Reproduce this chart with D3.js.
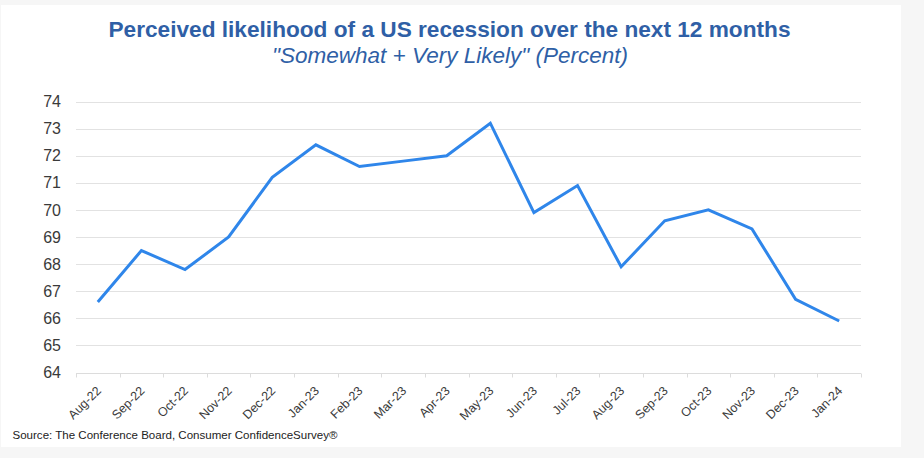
<!DOCTYPE html>
<html>
<head>
<meta charset="utf-8">
<script src="https://cdn.jsdelivr.net/npm/d3@7"></script>
<style>
  html, body { margin: 0; padding: 0; background: #f6f6f6; }
  svg { display: block; }
</style>
</head>
<body>
<svg id="chart" width="924" height="458"></svg>
<script>
const categories = ["Aug-22","Sep-22","Oct-22","Nov-22","Dec-22","Jan-23","Feb-23","Mar-23","Apr-23","May-23","Jun-23","Jul-23","Aug-23","Sep-23","Oct-23","Nov-23","Dec-23","Jan-24"];
const values = [66.6, 68.5, 67.8, 69.0, 71.2, 72.4, 71.6, 71.8, 72.0, 73.2, 69.9, 70.9, 67.9, 69.6, 70.0, 69.3, 66.7, 65.9];
const yTicks = [64, 65, 66, 67, 68, 69, 70, 71, 72, 73, 74];
const titleText = "Perceived likelihood of a US recession over the next 12 months";
const subtitleText = "\"Somewhat + Very Likely\" (Percent)";
const sourceText = "Source: The Conference Board, Consumer ConfidenceSurvey®";

const svg = d3.select("#chart");
const sans = "'Liberation Sans', Arial, sans-serif";

// card
svg.append("rect").attr("x", 1).attr("y", 5).attr("width", 900).attr("height", 442).attr("fill", "#ffffff");

const m = { left: 76, right: 861, top: 101.5, bottom: 372.5 };

const x = d3.scaleBand().domain(categories).range([m.left, m.right]).paddingInner(0).paddingOuter(0);
const y = d3.scaleLinear().domain([64, 74]).range([m.bottom, m.top]);

// gridlines
svg.append("g").selectAll("line").data(yTicks.filter(t => t !== 64)).join("line")
  .attr("x1", m.left).attr("x2", m.right)
  .attr("y1", d => Math.round(y(d)) + 0.5).attr("y2", d => Math.round(y(d)) + 0.5)
  .attr("stroke", "#e2e2e2").attr("stroke-width", 1);

// y axis labels
const yAxis = d3.axisLeft(y).tickValues(yTicks).tickSize(0).tickPadding(15).tickFormat(d3.format("d"));
const yg = svg.append("g").attr("transform", `translate(${m.left},0)`).call(yAxis);
yg.select(".domain").remove();
yg.selectAll("text").attr("font-family", sans).attr("font-size", 16).attr("fill", "#3a3a3a");

// x axis
const xg = svg.append("g").attr("transform", `translate(0,${Math.round(m.bottom) + 0.5})`);
xg.append("line").attr("x1", m.left).attr("x2", m.right).attr("stroke", "#dcdcdc");
const bounds = categories.map(c => x(c)).concat([m.right]);
xg.selectAll("line.tick").data(bounds).join("line").attr("class", "tick")
  .attr("x1", d => Math.round(d) + 0.5).attr("x2", d => Math.round(d) + 0.5)
  .attr("y1", 0).attr("y2", 4).attr("stroke", "#dcdcdc");
xg.selectAll("text").data(categories).join("text")
  .attr("transform", d => `translate(${x(d) + x.bandwidth() / 2 + 4},${18}) rotate(-45)`)
  .attr("text-anchor", "end")
  .attr("font-family", sans).attr("font-size", 12.5).attr("fill", "#3a3a3a")
  .text(d => d);

// line
const line = d3.line().x((d, i) => x(categories[i]) + x.bandwidth() / 2).y(d => y(d));
svg.append("path").datum(values).attr("d", line)
  .attr("fill", "none").attr("stroke", "#2f86ea").attr("stroke-width", 3)
  .attr("stroke-linejoin", "miter");

// titles
svg.append("text").attr("x", 449.5).attr("y", 36.5).attr("text-anchor", "middle")
  .attr("font-family", sans).attr("font-weight", "bold").attr("font-size", 22)
  .attr("textLength", 682).attr("lengthAdjust", "spacingAndGlyphs")
  .attr("fill", "#2f5fa6").text(titleText);
svg.append("text").attr("x", 450).attr("y", 63).attr("text-anchor", "middle")
  .attr("font-family", sans).attr("font-style", "italic").attr("font-size", 22)
  .attr("textLength", 356).attr("lengthAdjust", "spacingAndGlyphs")
  .attr("fill", "#2f5fa6").text(subtitleText);

// source
svg.append("text").attr("x", 12.5).attr("y", 438.5)
  .attr("font-family", sans).attr("font-size", 11.5).attr("fill", "#222")
  .attr("textLength", 325).attr("lengthAdjust", "spacingAndGlyphs")
  .text(sourceText);
</script>
</body>
</html>
